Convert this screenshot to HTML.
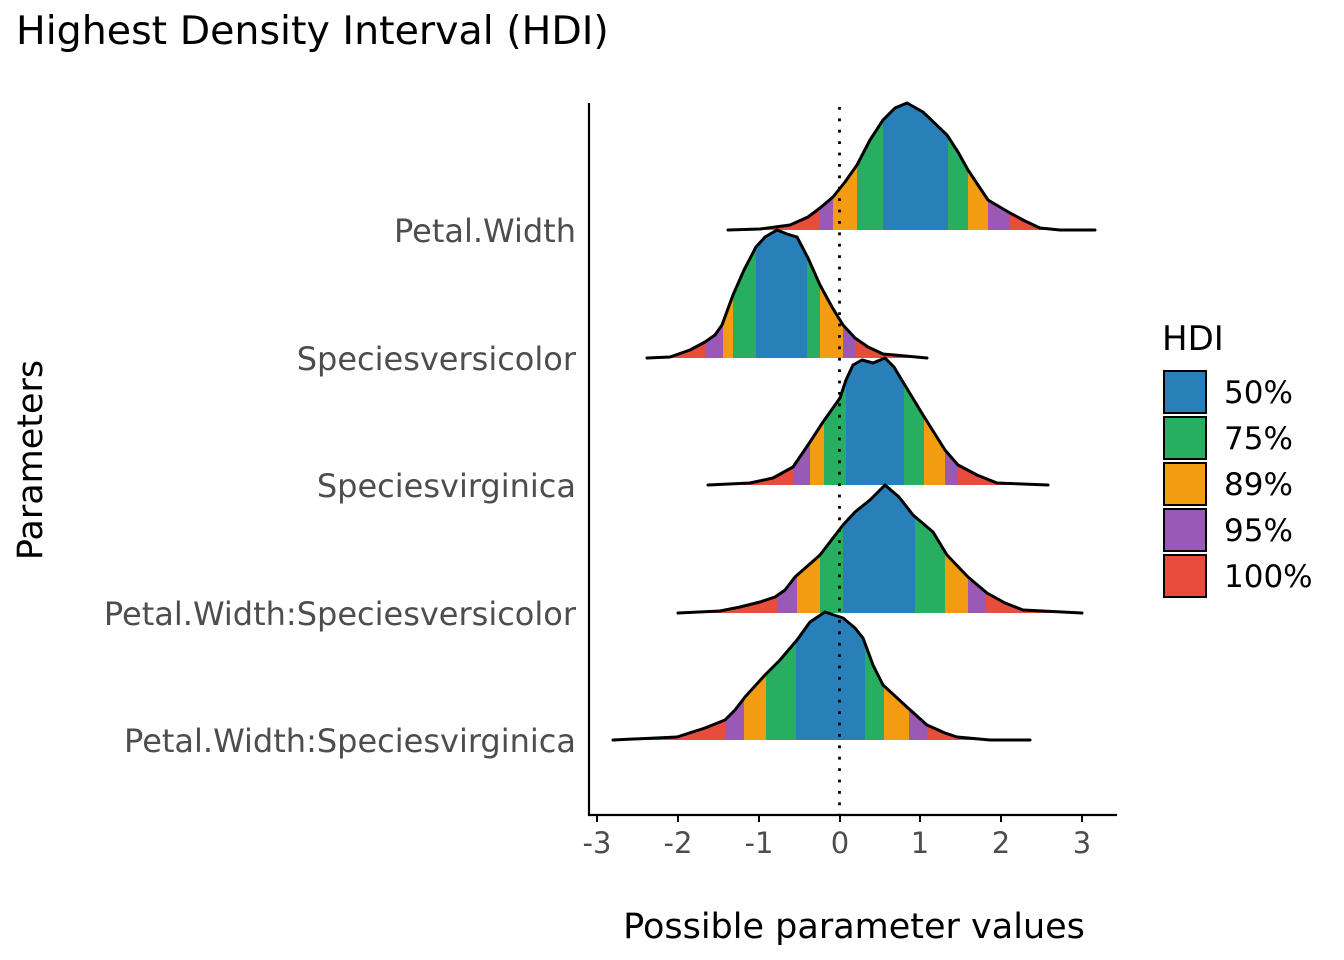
<!DOCTYPE html>
<html><head><meta charset="utf-8"><style>
html,body{margin:0;padding:0;background:#fff;}
svg{display:block;font-family:"DejaVu Sans","Liberation Sans",sans-serif;}
</style></head><body>
<svg width="1344" height="960" viewBox="0 0 1344 960" xmlns="http://www.w3.org/2000/svg">
<defs>
<clipPath id="c1"><polygon points="728,230 760,229 790,225 808,217 820,208 833,197 845,182 857,165 870,140 883,120 895,108 907,103 923,112 947,135 958,152 968,170 988,200 1010,213 1025,221 1040,228 1060,230 1095,230"/></clipPath>
<clipPath id="c2"><polygon points="647,358 670,357 690,350 705,342 715,335 722,325 733,295 744,270 756,247 765,237 777,230 787,234 797,237 808,258 820,285 832,307 843,325 855,338 868,347 883,354 927,358"/></clipPath>
<clipPath id="c3"><polygon points="708,485 750,483 773,478 793,467 810,442 823,422 840,398 846,380 853,365 862,360 873,363 885,358 894,367 903,382 923,415 945,450 958,465 977,475 997,483 1048,485"/></clipPath>
<clipPath id="c4"><polygon points="678,613 720,611 740,607 760,602 775,597 785,590 795,577 820,555 843,525 855,512 870,500 885,485 899,497 913,515 933,532 947,555 968,577 987,593 1005,603 1023,610 1082,613"/></clipPath>
<clipPath id="c5"><polygon points="613,740 677,737 705,728 725,720 735,710 745,697 765,675 780,660 797,640 810,622 825,612 843,618 855,628 863,638 873,665 883,685 908,708 927,725 945,733 957,737 990,740 1030,740"/></clipPath>
</defs>
<text x="16" y="44" font-size="39.5" fill="#000">Highest Density Interval (HDI)</text>

<g clip-path="url(#c1)">
<rect x="600" y="90" width="220" height="145" fill="#e74c3c"/>
<rect x="820" y="90" width="13" height="145" fill="#9b59b6"/>
<rect x="833" y="90" width="24" height="145" fill="#f39c12"/>
<rect x="857" y="90" width="26" height="145" fill="#27ae60"/>
<rect x="883" y="90" width="65" height="145" fill="#2980b9"/>
<rect x="948" y="90" width="20" height="145" fill="#27ae60"/>
<rect x="968" y="90" width="20" height="145" fill="#f39c12"/>
<rect x="988" y="90" width="22" height="145" fill="#9b59b6"/>
<rect x="1010" y="90" width="100" height="145" fill="#e74c3c"/>
</g>
<g clip-path="url(#c2)">
<rect x="600" y="220" width="105" height="140" fill="#e74c3c"/>
<rect x="705" y="220" width="18" height="140" fill="#9b59b6"/>
<rect x="723" y="220" width="10" height="140" fill="#f39c12"/>
<rect x="733" y="220" width="23" height="140" fill="#27ae60"/>
<rect x="756" y="220" width="51" height="140" fill="#2980b9"/>
<rect x="807" y="220" width="13" height="140" fill="#27ae60"/>
<rect x="820" y="220" width="23" height="140" fill="#f39c12"/>
<rect x="843" y="220" width="12" height="140" fill="#9b59b6"/>
<rect x="855" y="220" width="100" height="140" fill="#e74c3c"/>
</g>
<g clip-path="url(#c3)">
<rect x="600" y="350" width="193" height="140" fill="#e74c3c"/>
<rect x="793" y="350" width="17" height="140" fill="#9b59b6"/>
<rect x="810" y="350" width="14" height="140" fill="#f39c12"/>
<rect x="824" y="350" width="22" height="140" fill="#27ae60"/>
<rect x="846" y="350" width="58" height="140" fill="#2980b9"/>
<rect x="904" y="350" width="20" height="140" fill="#27ae60"/>
<rect x="924" y="350" width="21" height="140" fill="#f39c12"/>
<rect x="945" y="350" width="13" height="140" fill="#9b59b6"/>
<rect x="958" y="350" width="100" height="140" fill="#e74c3c"/>
</g>
<g clip-path="url(#c4)">
<rect x="600" y="480" width="177" height="140" fill="#e74c3c"/>
<rect x="777" y="480" width="20" height="140" fill="#9b59b6"/>
<rect x="797" y="480" width="23" height="140" fill="#f39c12"/>
<rect x="820" y="480" width="23" height="140" fill="#27ae60"/>
<rect x="843" y="480" width="72" height="140" fill="#2980b9"/>
<rect x="915" y="480" width="30" height="140" fill="#27ae60"/>
<rect x="945" y="480" width="23" height="140" fill="#f39c12"/>
<rect x="968" y="480" width="18" height="140" fill="#9b59b6"/>
<rect x="986" y="480" width="110" height="140" fill="#e74c3c"/>
</g>
<g clip-path="url(#c5)">
<rect x="600" y="600" width="125" height="145" fill="#e74c3c"/>
<rect x="725" y="600" width="19" height="145" fill="#9b59b6"/>
<rect x="744" y="600" width="22" height="145" fill="#f39c12"/>
<rect x="766" y="600" width="30" height="145" fill="#27ae60"/>
<rect x="796" y="600" width="69" height="145" fill="#2980b9"/>
<rect x="865" y="600" width="19" height="145" fill="#27ae60"/>
<rect x="884" y="600" width="25" height="145" fill="#f39c12"/>
<rect x="909" y="600" width="18" height="145" fill="#9b59b6"/>
<rect x="927" y="600" width="110" height="145" fill="#e74c3c"/>
</g>

<g fill="none" stroke="#000" stroke-width="3" stroke-linejoin="round" stroke-linecap="round">
<polyline points="728,230 760,229 790,225 808,217 820,208 833,197 845,182 857,165 870,140 883,120 895,108 907,103 923,112 947,135 958,152 968,170 988,200 1010,213 1025,221 1040,228 1060,230 1095,230"/>
<polyline points="647,358 670,357 690,350 705,342 715,335 722,325 733,295 744,270 756,247 765,237 777,230 787,234 797,237 808,258 820,285 832,307 843,325 855,338 868,347 883,354 927,358"/>
<polyline points="708,485 750,483 773,478 793,467 810,442 823,422 840,398 846,380 853,365 862,360 873,363 885,358 894,367 903,382 923,415 945,450 958,465 977,475 997,483 1048,485"/>
<polyline points="678,613 720,611 740,607 760,602 775,597 785,590 795,577 820,555 843,525 855,512 870,500 885,485 899,497 913,515 933,532 947,555 968,577 987,593 1005,603 1023,610 1082,613"/>
<polyline points="613,740 677,737 705,728 725,720 735,710 745,697 765,675 780,660 797,640 810,622 825,612 843,618 855,628 863,638 873,665 883,685 908,708 927,725 945,733 957,737 990,740 1030,740"/>
</g>

<line x1="839.5" y1="107" x2="839.5" y2="815" stroke="#000" stroke-width="2.8" stroke-dasharray="2.8,8.6"/>

<line x1="589" y1="103" x2="589" y2="816" stroke="#000" stroke-width="2.2"/>
<line x1="588" y1="815" x2="1117" y2="815" stroke="#000" stroke-width="2.2"/>
<g stroke="#000" stroke-width="2">
<line x1="597" y1="815" x2="597" y2="822"/><line x1="678" y1="815" x2="678" y2="822"/>
<line x1="759" y1="815" x2="759" y2="822"/><line x1="840" y1="815" x2="840" y2="822"/>
<line x1="920" y1="815" x2="920" y2="822"/><line x1="1001" y1="815" x2="1001" y2="822"/>
<line x1="1082" y1="815" x2="1082" y2="822"/>
</g>
<g font-size="29" fill="#4d4d4d" text-anchor="middle">
<text x="597" y="853">-3</text><text x="678" y="853">-2</text><text x="759" y="853">-1</text>
<text x="840" y="853">0</text><text x="920" y="853">1</text><text x="1001" y="853">2</text><text x="1082" y="853">3</text>
</g>
<g font-size="32" fill="#4d4d4d" text-anchor="end">
<text x="576" y="242">Petal.Width</text>
<text x="576" y="370">Speciesversicolor</text>
<text x="576" y="497">Speciesvirginica</text>
<text x="576" y="625">Petal.Width:Speciesversicolor</text>
<text x="576" y="752">Petal.Width:Speciesvirginica</text>
</g>
<text x="854" y="938" font-size="35" text-anchor="middle" fill="#000">Possible parameter values</text>
<text transform="translate(42,460) rotate(-90)" font-size="35" text-anchor="middle" fill="#000">Parameters</text>

<text x="1162" y="350" font-size="34" fill="#000">HDI</text>
<g stroke="#000" stroke-width="2">
<rect x="1164" y="371" width="42" height="42" fill="#2980b9"/>
<rect x="1164" y="417" width="42" height="42" fill="#27ae60"/>
<rect x="1164" y="463" width="42" height="42" fill="#f39c12"/>
<rect x="1164" y="509" width="42" height="42" fill="#9b59b6"/>
<rect x="1164" y="555" width="42" height="42" fill="#e74c3c"/>
</g>
<g font-size="31" fill="#000">
<text x="1224" y="403">50%</text><text x="1224" y="449">75%</text><text x="1224" y="495">89%</text>
<text x="1224" y="541">95%</text><text x="1224" y="587">100%</text>
</g>
</svg>
</body></html>
